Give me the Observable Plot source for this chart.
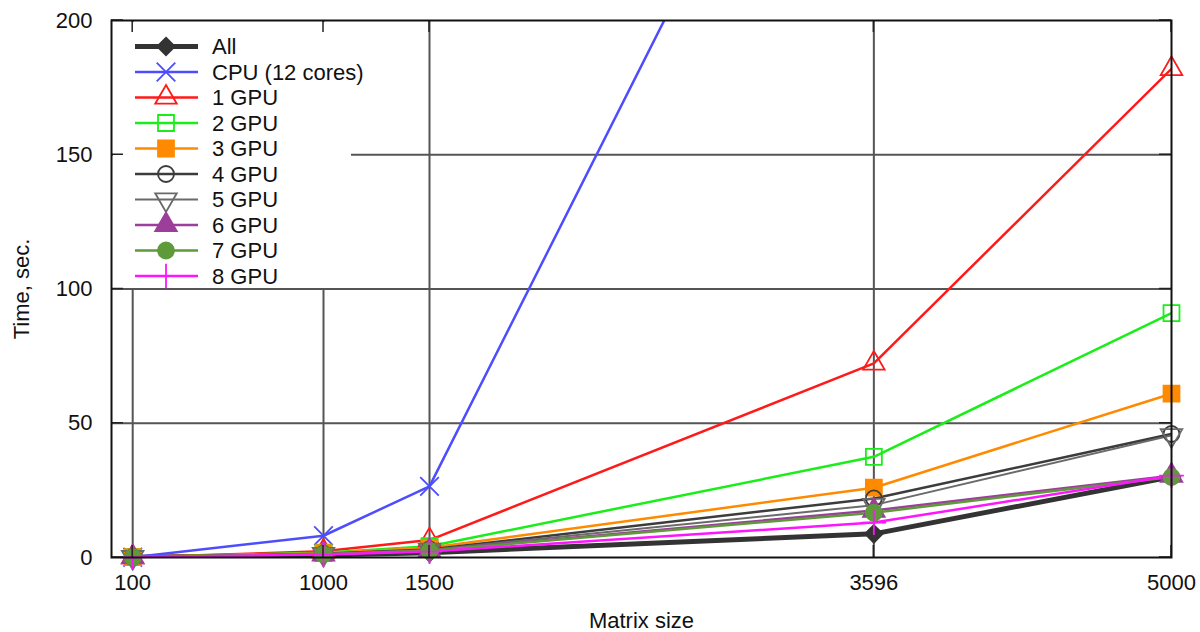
<!DOCTYPE html>
<html>
<head>
<meta charset="utf-8">
<script src="https://cdn.jsdelivr.net/npm/d3@7"></script>
<script src="https://cdn.jsdelivr.net/npm/@observablehq/plot@0.6"></script>
<style>
  html, body { margin: 0; padding: 0; background: #fff; }
  #chart { width: 1200px; height: 632px; }
</style>
</head>
<body>
<div id="chart"></div>
<script>
// Matrix sizes (x) and run times in seconds for each configuration
const sizes = [100, 1000, 1500, 3596, 5000];
const seriesNames = ["All", "CPU (12 cores)", "1 GPU", "2 GPU", "3 GPU", "4 GPU", "5 GPU", "6 GPU", "7 GPU", "8 GPU"];
const timeAll  = [0.05, 0.9, 1.8, 8.8, 30.0];
const timeCpu  = [0.1, 8.1, 26.5, 355, 950];
const timeGpu1 = [0.1, 2.3, 6.5, 72.3, 182];
const timeGpu2 = [0.1, 1.8, 4.2, 37.5, 91];
const timeGpu3 = [0.1, 1.6, 3.6, 26.0, 61];
const timeGpu4 = [0.1, 1.4, 3.0, 22.0, 46];
const timeGpu5 = [0.1, 1.3, 2.8, 19.5, 45.5];
const timeGpu6 = [0.1, 1.2, 2.6, 17.5, 30.5];
const timeGpu7 = [0.1, 1.2, 2.5, 16.7, 30.0];
const timeGpu8 = [0.1, 1.1, 2.2, 13.0, 30.5];
const xTicks = [100, 1000, 1500, 3596, 5000];
const yTicks = [0, 50, 100, 150, 200];
const xGrid = [100, 1000, 1500, 3596];
const yGrid = [50, 100, 150];

const seriesValues = [timeAll, timeCpu, timeGpu1, timeGpu2, timeGpu3, timeGpu4, timeGpu5, timeGpu6, timeGpu7, timeGpu8];

// gnuplot-like point types
const squareDiamond = {
  draw(ctx, size) {
    const r = Math.sqrt(size / 2);
    ctx.moveTo(0, -r); ctx.lineTo(r, 0); ctx.lineTo(0, r); ctx.lineTo(-r, 0); ctx.closePath();
  }
};
const triangleDown = {
  draw(ctx, size) {
    const s3 = Math.sqrt(3);
    const y = Math.sqrt(size / (s3 * 3));
    ctx.moveTo(0, y * 2); ctx.lineTo(-s3 * y, -y); ctx.lineTo(s3 * y, -y); ctx.closePath();
  }
};

const styles = [
  {color: "#333333", width: 5,   symbol: squareDiamond,     r: 7,   filled: true},
  {color: "#4d4dff", width: 2.5, symbol: d3.symbolTimes,    r: 8.5, filled: false},
  {color: "#ff1a1a", width: 2.5, symbol: d3.symbolTriangle, r: 8,   filled: false},
  {color: "#19ee19", width: 2.5, symbol: d3.symbolSquare,   r: 9,   filled: false},
  {color: "#ff8a00", width: 2.5, symbol: d3.symbolSquare,   r: 9,   filled: true},
  {color: "#3c3c3c", width: 2.5, symbol: d3.symbolCircle,   r: 8,   filled: false},
  {color: "#6a6a6a", width: 2,   symbol: triangleDown,      r: 8,   filled: false},
  {color: "#9b3f9b", width: 2.5, symbol: d3.symbolTriangle, r: 8,   filled: true},
  {color: "#5f9a3a", width: 2.5, symbol: d3.symbolCircle,   r: 8,   filled: true},
  {color: "#ff14ff", width: 2.5, symbol: d3.symbolPlus,     r: 8,   filled: false}
];

const rows = seriesNames.flatMap((name, i) =>
  sizes.map((size, j) => ({series: name, idx: i, size, time: seriesValues[i][j]})));

const gridColor = "#555555";
const fontSize = 22;

// white key panel drawn over the grid
function keyBackground(index, scales, values, dims) {
  const g = d3.create("svg:g");
  g.append("rect")
    .attr("x", dims.marginLeft + 2)
    .attr("y", dims.marginTop + 2)
    .attr("width", 238)
    .attr("height", 266)
    .attr("fill", "#fff");
  return g.node();
}

// key entries: line sample, point symbol, label
function keyEntries(index, scales, values, dims) {
  const g = d3.create("svg:g")
    .attr("text-anchor", "start")
    .attr("font-size", fontSize);
  const x0 = dims.marginLeft;
  seriesNames.forEach((name, i) => {
    const st = styles[i];
    const cy = dims.marginTop + 26.5 + i * 25.5;
    g.append("line")
      .attr("x1", x0 + 24).attr("x2", x0 + 87)
      .attr("y1", cy).attr("y2", cy)
      .attr("stroke", st.color).attr("stroke-width", st.width);
    g.append("path")
      .attr("transform", `translate(${x0 + 55},${cy})`)
      .attr("d", d3.symbol(st.symbol, Math.PI * st.r * st.r)())
      .attr("fill", st.filled ? st.color : "none")
      .attr("stroke", st.color)
      .attr("stroke-width", 1.8);
    g.append("text")
      .attr("x", x0 + 101).attr("y", cy)
      .attr("dy", "0.36em")
      .attr("fill", "#111")
      .text(name);
  });
  return g.node();
}

// inward tick marks on all four sides of the frame
function borderTicks(index, scales, values, dims) {
  const g = d3.create("svg:g").attr("stroke", "#222").attr("stroke-width", 1.5);
  const L = dims.marginLeft, R = dims.width - dims.marginRight;
  const T = dims.marginTop, B = dims.height - dims.marginBottom;
  const len = 12;
  for (const v of yTicks) {
    const y = scales.y(v);
    g.append("line").attr("x1", L).attr("x2", L + len).attr("y1", y).attr("y2", y);
    g.append("line").attr("x1", R).attr("x2", R - len).attr("y1", y).attr("y2", y);
  }
  for (const v of xTicks) {
    const x = scales.x(v);
    g.append("line").attr("x1", x).attr("x2", x).attr("y1", T).attr("y2", T + len);
    g.append("line").attr("x1", x).attr("x2", x).attr("y1", B).attr("y2", B - len);
  }
  return g.node();
}

const lineMarks = seriesNames.map((name, i) =>
  Plot.line(rows.filter(d => d.idx === i), {
    x: "size", y: "time",
    stroke: styles[i].color, strokeWidth: styles[i].width,
    clip: true
  }));

const dotMarks = seriesNames.map((name, i) =>
  Plot.dot(rows.filter(d => d.idx === i && d.time <= 200), {
    x: "size", y: "time",
    symbol: styles[i].symbol, r: styles[i].r,
    stroke: styles[i].color, strokeWidth: 1.8,
    fill: styles[i].filled ? styles[i].color : "none"
  }));

const chart = Plot.plot({
  width: 1200,
  height: 632,
  marginLeft: 111,
  marginRight: 29,
  marginTop: 20,
  marginBottom: 75,
  style: {fontFamily: "'Liberation Sans', Arial, sans-serif", fontSize: fontSize + "px", color: "#111", background: "#fff"},
  x: {domain: [0, 5000]},
  y: {domain: [0, 200]},
  marks: [
    Plot.ruleX(xGrid, {stroke: gridColor, strokeWidth: 2}),
    Plot.ruleY(yGrid, {stroke: gridColor, strokeWidth: 2}),
    keyBackground,
    ...lineMarks,
    ...dotMarks,
    keyEntries,
    borderTicks,
    Plot.frame({stroke: "#111", strokeWidth: 2}),
    Plot.axisX({
      ticks: xTicks, tickFormat: d => String(d), tickSize: 0, tickPadding: 17,
      label: "Matrix size", labelAnchor: "center", labelArrow: "none", labelOffset: 70, fontSize
    }),
    Plot.axisY({
      ticks: yTicks, tickFormat: d => String(d), tickSize: 0, tickPadding: 19,
      label: "Time, sec.", labelAnchor: "center", labelArrow: "none", labelOffset: 98, fontSize
    })
  ]
});

document.getElementById("chart").append(chart);
</script>
</body>
</html>
